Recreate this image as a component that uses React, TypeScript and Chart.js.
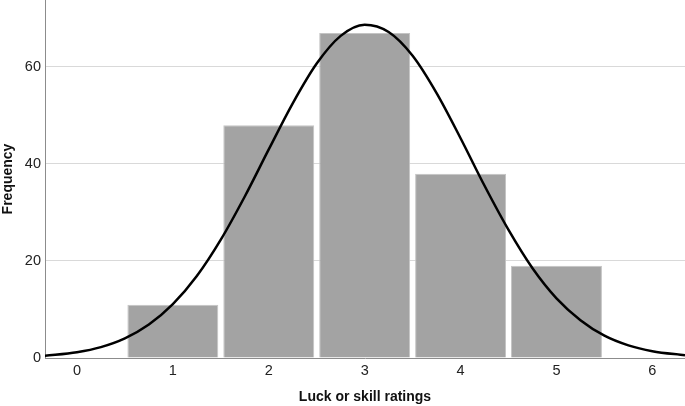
import React, { useEffect, useRef } from "react";
import { Chart, registerables } from "chart.js";

Chart.register(...registerables);

const ratings = [1, 2, 3, 4, 5];
const frequencies = [11, 48, 67, 38, 19];
const xTickValues = [0, 1, 2, 3, 4, 5, 6];
const yTickValues = [0, 20, 40, 60];
const curveX = [-0.34, 0, 0.25, 0.5, 0.75, 1, 1.25, 1.5, 1.75, 2, 2.25, 2.5, 2.75, 3, 3.25, 3.5, 3.75, 4, 4.25, 4.5, 4.75, 5, 5.25, 5.5, 5.75, 6, 6.34];
const curveY = [0.45, 1.2, 2.25, 4.05, 6.9, 11.1, 16.9, 24.4, 33.3, 43.0, 52.5, 60.7, 66.4, 68.7, 67.2, 62.3, 54.6, 45.3, 35.5, 26.4, 18.5, 12.3, 7.8, 4.6, 2.6, 1.4, 0.55];
const xTitle = "Luck or skill ratings";
const yTitle = "Frequency";

export default function App() {
  const ref = useRef<HTMLCanvasElement>(null);
  useEffect(() => {
    if (!ref.current) return;
    const font = "'Liberation Sans', Arial, sans-serif";
    const chart = new Chart(ref.current, {
      type: "bar",
      data: {
        datasets: [
          {
            type: "line",
            data: curveX.map((x, i) => ({ x, y: curveY[i] })),
            borderColor: "#000000",
            borderWidth: 2.5,
            pointRadius: 0,
            tension: 0.4,
            cubicInterpolationMode: "monotone",
            fill: false,
            order: 0,
          } as any,
          {
            type: "bar",
            data: ratings.map((x, i) => ({ x, y: frequencies[i] })),
            backgroundColor: "#a3a3a3",
            borderColor: "#c4c4c4",
            borderWidth: 1,
            categoryPercentage: 1,
            barPercentage: 0.948,
            order: 1,
          } as any,
        ],
      },
      options: {
        animation: false,
        responsive: false,
        maintainAspectRatio: false,
        layout: { padding: 0 },
        plugins: { legend: { display: false }, tooltip: { enabled: false } },
        scales: {
          x: {
            type: "linear",
            min: -0.333,
            max: 6.34,
            offset: false,
            afterBuildTicks: (s: any) => {
              s.ticks = xTickValues.map((v) => ({ value: v }));
            },
            afterFit: (s: any) => {
              s.height = 48;
              s.paddingLeft = 0;
              s.paddingRight = 0;
            },
            grid: { display: false, drawTicks: false },
            border: { display: true, color: "#8c8c8c", width: 1 },
            ticks: {
              padding: 4,
              color: "#222",
              font: { family: font, size: 14.5 },
              callback: (v: any) => String(v),
            },
            title: {
              display: true,
              text: xTitle,
              color: "#111",
              font: { family: font, size: 14, weight: "bold" },
              padding: { top: 8, bottom: 0 },
            },
          },
          y: {
            type: "linear",
            min: 0,
            max: 73.8,
            afterBuildTicks: (s: any) => {
              s.ticks = yTickValues.map((v) => ({ value: v }));
            },
            afterFit: (s: any) => {
              s.width = 45;
              s.paddingTop = 0;
              s.paddingBottom = 0;
            },
            grid: {
              color: (c: any) => (c.tick && c.tick.value === 0 ? "rgba(0,0,0,0)" : "#d9d9d9"),
              lineWidth: 1,
              drawTicks: false,
            },
            border: { display: true, color: "#8c8c8c", width: 1 },
            ticks: {
              padding: 4,
              color: "#222",
              font: { family: font, size: 14.5 },
              callback: (v: any) => String(v),
            },
            title: {
              display: true,
              text: yTitle,
              color: "#111",
              font: { family: font, size: 14, weight: "bold" },
              padding: { top: 0, bottom: 2 },
            },
          },
        },
      },
    });
    return () => chart.destroy();
  }, []);
  return (
    <div style={{ position: "absolute", left: 0, top: 0, width: 685, height: 406, background: "#fff" }}>
      <canvas ref={ref} width={685} height={406} style={{ width: 685, height: 406, display: "block" }} />
    </div>
  );
}
